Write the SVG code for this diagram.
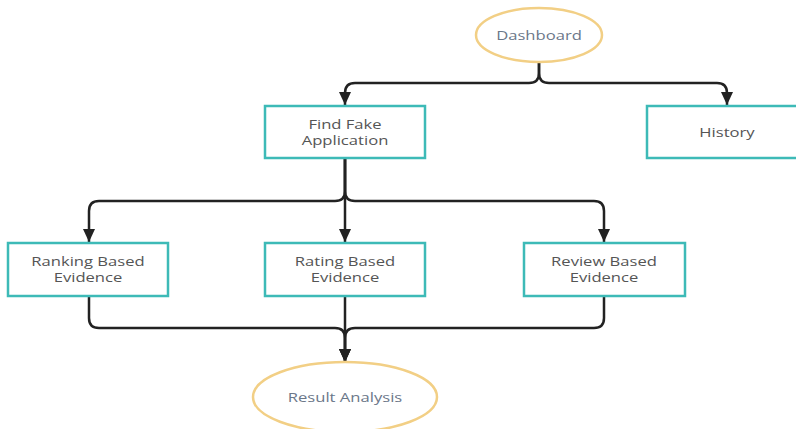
<svg xmlns="http://www.w3.org/2000/svg" width="796" height="429" viewBox="0 0 796 429">
<style>
.box{fill:#fff;stroke:#3dbab7;stroke-width:2.5}
.ell{fill:#fff;stroke:#f2cf85;stroke-width:2.5}
.t{font-family:"Open Sans","Noto Sans",sans-serif;font-size:13.5px;fill:#555;text-anchor:middle}
.te{font-family:"Open Sans","Noto Sans",sans-serif;font-size:13.5px;fill:#6b7789;text-anchor:middle}
.c{fill:none;stroke:#222;stroke-width:2.5}
</style>
<defs>
<marker id="ah" markerUnits="userSpaceOnUse" markerWidth="14" markerHeight="12" refX="13" refY="6" orient="auto">
<path d="M0,0 L13,6 L0,12 Z" fill="#222"/>
</marker>
</defs>
<g id="connectors">
<path class="c" d="M539,62 V73 Q539,83 529,83 H355 Q345,83 345,93 V105" marker-end="url(#ah)"/>
<path class="c" d="M539,62 V73 Q539,83 549,83 H717 Q727,83 727,93 V105" marker-end="url(#ah)"/>
<path class="c" d="M345,158 V191 Q345,201 335,201 H99 Q89,201 89,211 V242" marker-end="url(#ah)"/>
<path class="c" d="M345,158 V242" marker-end="url(#ah)"/>
<path class="c" d="M345,158 V191 Q345,201 355,201 H594 Q604,201 604,211 V242" marker-end="url(#ah)"/>
<path class="c" d="M89,296 V318 Q89,328 99,328 H335 Q345,328 345,338 V362" marker-end="url(#ah)"/>
<path class="c" d="M345,296 V362" marker-end="url(#ah)"/>
<path class="c" d="M604,296 V318 Q604,328 594,328 H355 Q345,328 345,338 V362" marker-end="url(#ah)"/>
</g>
<g id="dashboard">
<ellipse class="ell" cx="539" cy="35" rx="63" ry="27"/>
<text class="te" transform="translate(539,40) scale(1.23,1)">Dashboard</text>
</g>
<g id="find-fake">
<rect class="box" x="265" y="106" width="160" height="52"/>
<text class="t" transform="translate(345,129) scale(1.23,1)"><tspan x="0" y="0">Find Fake</tspan><tspan x="0" y="16">Application</tspan></text>
</g>
<g id="history">
<rect class="box" x="647" y="106" width="160" height="52"/>
<text class="t" transform="translate(727,137) scale(1.23,1)">History</text>
</g>
<g id="ranking">
<rect class="box" x="8" y="243" width="160" height="53"/>
<text class="t" transform="translate(88,266) scale(1.23,1)"><tspan x="0" y="0">Ranking Based</tspan><tspan x="0" y="16">Evidence</tspan></text>
</g>
<g id="rating">
<rect class="box" x="265" y="243" width="160" height="53"/>
<text class="t" transform="translate(345,266) scale(1.23,1)"><tspan x="0" y="0">Rating Based</tspan><tspan x="0" y="16">Evidence</tspan></text>
</g>
<g id="review">
<rect class="box" x="524" y="243" width="161" height="53"/>
<text class="t" transform="translate(604,266) scale(1.23,1)"><tspan x="0" y="0">Review Based</tspan><tspan x="0" y="16">Evidence</tspan></text>
</g>
<g id="result">
<ellipse class="ell" cx="345" cy="397" rx="92" ry="35"/>
<text class="te" transform="translate(345,402) scale(1.23,1)">Result Analysis</text>
</g>
</svg>
